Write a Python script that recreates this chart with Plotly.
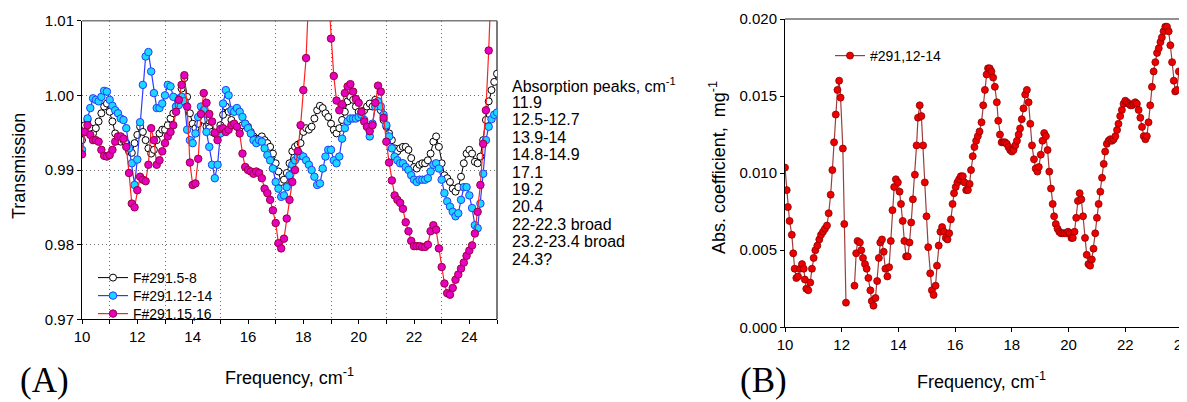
import numpy as np
import plotly.graph_objects as go

# ---------------- Panel A data (step 0.1 cm-1) ----------------
freq_A = np.round(np.arange(10.0, 25.0001, 0.1), 1)

trans_5_8 = [
    0.9940, 0.9960, 0.9967, 0.9956, 0.9949, 0.9956, 0.9965, 0.9976, 0.9985, 0.9989,
    0.9978, 0.9965, 0.9949, 0.9940, 0.9938, 0.9940, 0.9936, 0.9925, 0.9923, 0.9936,
    0.9947, 0.9958, 0.9951, 0.9940, 0.9929, 0.9922, 0.9927, 0.9940, 0.9949, 0.9954,
    0.9954, 0.9960, 0.9969, 0.9976, 0.9985, 0.9996, 1.0009, 1.0023, 0.9998, 0.9976,
    0.9962, 0.9956, 0.9962, 0.9974, 0.9967, 0.9958, 0.9956, 0.9951, 0.9949, 0.9945,
    0.9960, 0.9974, 0.9985, 0.9978, 0.9967, 0.9960, 0.9958, 0.9956, 0.9960, 0.9962,
    0.9958, 0.9951, 0.9945, 0.9942, 0.9942, 0.9945, 0.9940, 0.9936, 0.9931, 0.9922,
    0.9909, 0.9898, 0.9884, 0.9887, 0.9896, 0.9909, 0.9925, 0.9931, 0.9934, 0.9936,
    0.9951, 0.9956, 0.9954, 0.9958, 0.9969, 0.9980, 0.9986, 0.9983, 0.9976, 0.9971,
    0.9962, 0.9954, 0.9949, 0.9956, 0.9967, 0.9978, 0.9992, 0.9998, 0.9994, 0.9985,
    0.9978, 0.9978, 0.9980, 0.9985, 0.9989, 0.9985, 0.9994, 0.9989, 0.9980, 0.9967,
    0.9958, 0.9949, 0.9940, 0.9929, 0.9925, 0.9929, 0.9931, 0.9931, 0.9927, 0.9916,
    0.9904, 0.9902, 0.9907, 0.9909, 0.9909, 0.9913, 0.9922, 0.9938, 0.9945, 0.9931,
    0.9909, 0.9893, 0.9889, 0.9884, 0.9875, 0.9871, 0.9877, 0.9891, 0.9909, 0.9922,
    0.9927, 0.9922, 0.9911, 0.9909, 0.9918, 0.9940, 0.9967, 0.9992, 1.0007, 1.0018,
    1.0029,
]

trans_12_14 = [
    0.9927, 0.9951, 0.9969, 0.9983, 0.9996, 0.9994, 0.9992, 0.9998, 1.0006, 1.0005,
    0.9994, 0.9986, 0.9980, 0.9976, 0.9969, 0.9967, 0.9956, 0.9929, 0.9909, 0.9880,
    0.9914, 0.9964, 1.0014, 1.0052, 1.0058, 1.0032, 1.0003, 0.9983, 0.9983, 0.9989,
    1.0000, 1.0014, 1.0012, 0.9998, 0.9985, 0.9987, 0.9998, 0.9992, 0.9954, 0.9940,
    0.9936, 0.9949, 0.9971, 0.9985, 0.9980, 0.9951, 0.9931, 0.9907, 0.9889, 0.9907,
    0.9949, 0.9989, 1.0007, 1.0000, 0.9980, 0.9978, 0.9983, 0.9978, 0.9971, 0.9962,
    0.9956, 0.9949, 0.9940, 0.9936, 0.9940, 0.9938, 0.9929, 0.9920, 0.9913, 0.9902,
    0.9884, 0.9875, 0.9864, 0.9866, 0.9877, 0.9893, 0.9907, 0.9913, 0.9918, 0.9920,
    0.9918, 0.9913, 0.9907, 0.9900, 0.9891, 0.9880, 0.9882, 0.9902, 0.9918, 0.9927,
    0.9927, 0.9913, 0.9909, 0.9918, 0.9942, 0.9956, 0.9965, 0.9969, 0.9969, 0.9969,
    0.9971, 0.9974, 0.9967, 0.9958, 0.9945, 0.9962, 0.9985, 0.9992, 0.9985, 0.9974,
    0.9960, 0.9945, 0.9929, 0.9918, 0.9913, 0.9909, 0.9909, 0.9904, 0.9900, 0.9893,
    0.9887, 0.9884, 0.9887, 0.9887, 0.9887, 0.9889, 0.9898, 0.9907, 0.9909, 0.9902,
    0.9887, 0.9869, 0.9858, 0.9851, 0.9844, 0.9838, 0.9842, 0.9860, 0.9877, 0.9877,
    0.9866, 0.9849, 0.9826, 0.9822, 0.9855, 0.9895, 0.9940, 0.9958, 0.9968, 0.9974,
    0.9977,
]

trans_15_16 = [
    0.9921, 0.9951, 0.9960, 0.9947, 0.9940, 0.9940, 0.9938, 0.9927, 0.9919, 0.9918,
    0.9920, 0.9927, 0.9938, 0.9945, 0.9945, 0.9942, 0.9931, 0.9896, 0.9855, 0.9850,
    0.9873, 0.9891, 0.9887, 0.9885, 0.9907, 0.9956, 0.9940, 0.9907, 0.9913, 0.9925,
    0.9936, 0.9945, 0.9951, 0.9960, 0.9978, 0.9994, 1.0014, 1.0027, 0.9985, 0.9910,
    0.9880, 0.9882, 0.9915, 0.9975, 1.0003, 0.9990, 0.9975, 0.9965, 0.9950, 0.9940,
    0.9955, 0.9956, 0.9951, 0.9954, 0.9960, 0.9962, 0.9958, 0.9949, 0.9922, 0.9904,
    0.9900, 0.9898, 0.9895, 0.9898, 0.9896, 0.9889, 0.9875, 0.9869, 0.9860, 0.9846,
    0.9829, 0.9802, 0.9795, 0.9808, 0.9835, 0.9860, 0.9884, 0.9900, 0.9925, 0.9960,
    1.0007, 1.0050, 1.0140, 1.0200, 1.0250, 1.0280, 1.0280, 1.0250, 1.0200, 1.0140,
    1.0076, 1.0026, 0.9993, 0.9980, 0.9988, 1.0003, 1.0012, 1.0015, 1.0005, 0.9995,
    0.9990, 0.9978, 0.9965, 0.9958, 0.9952, 0.9960, 0.9990, 1.0013, 1.0005, 0.9970,
    0.9938, 0.9910, 0.9886, 0.9866, 0.9860, 0.9856, 0.9848, 0.9830, 0.9818, 0.9805,
    0.9798, 0.9798, 0.9798, 0.9797, 0.9797, 0.9800, 0.9818, 0.9826, 0.9820, 0.9795,
    0.9770, 0.9748, 0.9735, 0.9733, 0.9742, 0.9753, 0.9760, 0.9768, 0.9776, 0.9785,
    0.9792, 0.9799, 0.9815, 0.9844, 0.9880, 0.9935, 0.9980, 1.0060, 1.0160,
]

names_A = ["F#291.5-8", "F#291.12-14", "F#291.15,16"]

peaks_text = [
    "Absorption peaks, cm<sup>-1</sup>", "11.9", "12.5-12.7", "13.9-14", "14.8-14.9",
    "17.1", "19.2", "20.4", "22-22.3 broad", "23.2-23.4 broad", "24.3?",
]

# ---------------- Panel B data ----------------
freq_B = [
    10.00, 10.06, 10.10, 10.16, 10.24, 10.29, 10.34, 10.40, 10.46, 10.53, 10.60, 10.66,
    10.70, 10.75, 10.82, 10.89, 10.95, 11.01, 11.07, 11.14, 11.21, 11.27, 11.34, 11.41,
    11.48, 11.54, 11.61, 11.67, 11.73, 11.79, 11.85, 11.91, 11.96, 12.04, 12.09, 12.15,
    12.30,
    12.45, 12.51, 12.56, 12.64, 12.69, 12.75, 12.82, 12.88, 12.94, 13.01, 13.06, 13.12,
    13.19, 13.25, 13.31, 13.36, 13.42, 13.48, 13.54, 13.61, 13.67, 13.73, 13.79, 13.85,
    13.91, 13.98, 14.04, 14.09, 14.15, 14.21, 14.27, 14.33, 14.39, 14.45, 14.51, 14.58,
    14.64, 14.69, 14.75, 14.81, 14.87, 14.93, 14.99, 15.05, 15.12, 15.18, 15.24, 15.31,
    15.36, 15.42, 15.48, 15.54, 15.61, 15.67, 15.73, 15.79, 15.85, 15.91, 15.96, 16.02,
    16.08, 16.14, 16.20, 16.27, 16.33, 16.39, 16.45, 16.51, 16.56, 16.62, 16.68, 16.74,
    16.80, 16.86, 16.93, 16.99, 17.05, 17.11, 17.16, 17.22, 17.28, 17.34, 17.40, 17.47,
    17.52, 17.58, 17.64, 17.70, 17.76, 17.82, 17.88, 17.94, 18.00, 18.06, 18.12, 18.18,
    18.24, 18.29, 18.35, 18.41, 18.47, 18.53, 18.59, 18.65, 18.71, 18.78, 18.84, 18.90,
    18.95, 19.02, 19.08, 19.14, 19.20, 19.26, 19.32, 19.38, 19.44, 19.49, 19.55, 19.61,
    19.67, 19.73, 19.79, 19.85, 19.92, 19.98, 20.04, 20.10, 20.15, 20.21, 20.27, 20.33,
    20.39, 20.45, 20.51, 20.58, 20.64, 20.70, 20.76, 20.82, 20.88, 20.94, 21.00, 21.06,
    21.12, 21.18, 21.24, 21.29, 21.35, 21.41, 21.47, 21.53, 21.59, 21.65, 21.71, 21.76,
    21.82, 21.88, 21.94, 22.00, 22.06, 22.12, 22.18, 22.24, 22.29, 22.35, 22.41, 22.47,
    22.53, 22.59, 22.65, 22.71, 22.76, 22.82, 22.88, 22.94, 23.00, 23.06, 23.12, 23.18,
    23.24, 23.29, 23.35, 23.41, 23.47, 23.53, 23.59, 23.65, 23.71, 23.76, 23.82, 23.89,
    24.00,
]

abs_coef = [
    0.01036, 0.0089, 0.0078, 0.0069, 0.0060, 0.0048, 0.0038, 0.0032, 0.0033, 0.0038, 0.0041, 0.0038,
    0.0031, 0.0025, 0.0024, 0.0029, 0.0038, 0.0045, 0.0050, 0.0053, 0.0057, 0.0060, 0.0062, 0.0064,
    0.0066, 0.0074, 0.0086, 0.0102, 0.0120, 0.0138, 0.0154, 0.0160, 0.0149, 0.0116, 0.0067, 0.0016,
    None,
    0.0027, 0.0048, 0.0056, 0.0055, 0.0050, 0.0045, 0.0041, 0.0038, 0.0032, 0.0024, 0.0017, 0.0014,
    0.0019, 0.0030, 0.0045, 0.0055, 0.0057, 0.0049, 0.0038, 0.0033, 0.0039, 0.0056, 0.0076, 0.0091,
    0.0096, 0.0094, 0.0088, 0.0080, 0.0069, 0.0056, 0.0046, 0.0046, 0.0055, 0.0068, 0.0083, 0.0099,
    0.0118, 0.0136, 0.0144, 0.0137, 0.0118, 0.0094, 0.0072, 0.0052, 0.0035, 0.0024, 0.0021, 0.0027,
    0.0040, 0.0053, 0.0062, 0.0065, 0.0062, 0.0058, 0.0057, 0.0061, 0.0070, 0.0080, 0.0087, 0.0091,
    0.0094, 0.0096, 0.0098, 0.0098, 0.0094, 0.0089, 0.0089, 0.0093, 0.0102, 0.0111, 0.0117, 0.0121,
    0.0124, 0.0127, 0.0133, 0.0144, 0.0154, 0.0164, 0.0168, 0.0168, 0.0166, 0.0162, 0.0156, 0.0146,
    0.0134, 0.0125, 0.0120, 0.0120, 0.0120, 0.0119, 0.0117, 0.0115, 0.0114, 0.0115, 0.0118, 0.0121,
    0.0125, 0.0129, 0.0135, 0.0142, 0.0151, 0.0154, 0.0146, 0.0132, 0.0118, 0.0109, 0.0103, 0.0101,
    0.0104, 0.0112, 0.0121, 0.0126, 0.0124, 0.0115, 0.0101, 0.0090, 0.0080, 0.0072, 0.0067, 0.0064,
    0.0062, 0.0061, 0.0061, 0.0061, 0.0061, 0.0062, 0.0061, 0.0058, 0.0058, 0.0062, 0.0071, 0.0082,
    0.0087, 0.0083, 0.0072, 0.0058, 0.0047, 0.0041, 0.0040, 0.0044, 0.0051, 0.0061, 0.0071, 0.0080,
    0.0088, 0.0097, 0.0106, 0.0114, 0.0119, 0.0121, 0.0122, 0.0121, 0.0122, 0.0124, 0.0128, 0.0132,
    0.0137, 0.0141, 0.0145, 0.0147, 0.0146, 0.0145, 0.0144, 0.0144, 0.0145, 0.0146, 0.0145, 0.0141,
    0.0136, 0.0130, 0.0124, 0.0122, 0.0124, 0.0133, 0.0144, 0.0156, 0.0166, 0.0172, 0.0178, 0.0181,
    0.0185, 0.0188, 0.0192, 0.0195, 0.0195, 0.0192, 0.0183, 0.0172, 0.0160, 0.0153, 0.0154, 0.0166,
    0.0166,
]

name_B = "#291,12-14"

# ---------------- Figure ----------------
FONT = "Liberation Sans, Arial, sans-serif"
SERIF = "Liberation Serif, Times New Roman, serif"
WIN_W, WIN_H = 1187, 402
OFF = 8                     # page body margin of the html wrapper
W, H = WIN_W - OFF, WIN_H - OFF


def px2x(px):
    return (px - OFF) / W


def px2y(py):
    return 1 - (py - OFF) / H


fig = go.Figure()

styles_A = [
    dict(line=dict(color="#000000", width=1),
         marker=dict(symbol="circle", size=7, color="#ffffff", line=dict(color="#000000", width=1))),
    dict(line=dict(color="#2b3bff", width=1.2),
         marker=dict(symbol="circle", size=7.5, color="#18d8ff", line=dict(color="#2b3bff", width=1))),
    dict(line=dict(color="#ff2020", width=1.2),
         marker=dict(symbol="circle", size=7.5, color="#e600c0", line=dict(color="#9a0040", width=1))),
]
legend_ids = ["legend", "legend3", "legend4"]
series_A = [trans_5_8, trans_12_14, trans_15_16]
for name, ys, st, lg in zip(names_A, series_A, styles_A, legend_ids):
    fig.add_trace(go.Scatter(
        x=freq_A[:len(ys)], y=ys, name=name, mode="lines+markers",
        xaxis="x", yaxis="y", legend=lg, **st))

fig.add_trace(go.Scatter(
    x=freq_B, y=abs_coef, name=name_B, mode="lines+markers", connectgaps=False,
    xaxis="x2", yaxis="y2", legend="legend2",
    line=dict(color="#a03c3c", width=1.2),
    marker=dict(symbol="circle", size=7, color="#ee0000", line=dict(color="#8a0000", width=0.8))))

tickfont = dict(family=FONT, size=15, color="#000")
titlefont = dict(family=FONT, size=18, color="#000")
legfont = dict(family=FONT, size=14, color="#000")
GRID = "#6e6e6e"
GRIDDASH = "1px,3px"

axis_common = dict(showline=True, linecolor="#000", linewidth=1, mirror=False,
                   ticks="outside", ticklen=4, tickcolor="#000", tickfont=tickfont,
                   zeroline=False, automargin=False)


def legend_at(x_px, top_px):
    return dict(x=px2x(x_px), y=px2y(top_px), xanchor="left", yanchor="top",
                bgcolor="rgba(0,0,0,0)", borderwidth=0, font=legfont, itemwidth=30)


fig.update_layout(
    template="none",
    width=W, height=H, margin=dict(l=0, r=0, t=0, b=0, pad=0, autoexpand=False),
    paper_bgcolor="#ffffff", plot_bgcolor="#ffffff",
    font=dict(family=FONT, color="#000"),
    xaxis=dict(domain=[px2x(82), px2x(497)], range=[10, 25], dtick=2, tick0=10,
               showgrid=False,
               minor=dict(dtick=1, tick0=10, showgrid=True, gridcolor=GRID,
                          griddash=GRIDDASH, gridwidth=1, ticks="outside", ticklen=4,
                          tickcolor="#000"),
               anchor="y", **axis_common),
    yaxis=dict(domain=[px2y(319.3), px2y(20.7)], range=[0.97, 1.01], dtick=0.01,
               tickformat=".2f", showgrid=True, gridcolor=GRID, griddash=GRIDDASH,
               gridwidth=1, anchor="x", **axis_common),
    xaxis2=dict(domain=[px2x(785), px2x(1182)], range=[10, 24], dtick=2, tick0=10,
                showgrid=False, anchor="y2", ticklabeloverflow="allow", **axis_common),
    yaxis2=dict(domain=[px2y(327.3), px2y(19)], range=[0, 0.02], dtick=0.005,
                tickformat=".3f", showgrid=False, anchor="x2", **axis_common),
    legend=legend_at(93, 262),
    legend3=legend_at(93, 280),
    legend4=legend_at(93, 298),
    legend2=legend_at(830, 40),
    showlegend=True,
)

# frame: top and right edges (grey in panel A, top black / right grey in panel B)
frame = [
    dict(type="line", xref="x domain", yref="y domain", x0=0, x1=1, y0=1, y1=1,
         line=dict(color="#7a7a7a", width=1.5), layer="below"),
    dict(type="line", xref="x domain", yref="y domain", x0=1, x1=1, y0=0, y1=1,
         line=dict(color="#7a7a7a", width=2), layer="below"),
    dict(type="line", xref="x2 domain", yref="y2 domain", x0=0, x1=1, y0=1, y1=1,
         line=dict(color="#222222", width=1), layer="below"),
    dict(type="line", xref="x2 domain", yref="y2 domain", x0=1, x1=1, y0=0, y1=1,
         line=dict(color="#8a8a8a", width=1.5), layer="below"),
]
fig.update_layout(shapes=frame)

annotations = [
    dict(text="Frequency, cm<sup>-1</sup>", x=px2x(289), y=px2y(376), xref="paper", yref="paper",
         showarrow=False, font=titlefont, xanchor="center", yanchor="middle"),
    dict(text="Transmission", x=px2x(19), y=px2y(166), xref="paper", yref="paper",
         showarrow=False, font=titlefont, textangle=-90, xanchor="center", yanchor="middle"),
    dict(text="Frequency, cm<sup>-1</sup>", x=px2x(982), y=px2y(380), xref="paper", yref="paper",
         showarrow=False, font=titlefont, xanchor="center", yanchor="middle"),
    dict(text="Abs. coefficient,  mg<sup>-1</sup>", x=px2x(717), y=px2y(168), xref="paper", yref="paper",
         showarrow=False, font=titlefont, textangle=-90, xanchor="center", yanchor="middle"),
    dict(text="(A)", x=px2x(44), y=px2y(402), xref="paper", yref="paper",
         showarrow=False, font=dict(family=SERIF, size=35, color="#000"),
         xanchor="center", yanchor="bottom"),
    dict(text="(B)", x=px2x(763), y=px2y(402), xref="paper", yref="paper",
         showarrow=False, font=dict(family=SERIF, size=35, color="#000"),
         xanchor="center", yanchor="bottom"),
]
for i, t in enumerate(peaks_text):
    annotations.append(dict(text=t, x=px2x(510), y=px2y(85 + 17.4 * i), xref="paper", yref="paper",
                            showarrow=False, font=dict(family=FONT, size=16, color="#000"),
                            xanchor="left", yanchor="middle"))
fig.update_layout(annotations=annotations)

fig.write_html("out.html")
